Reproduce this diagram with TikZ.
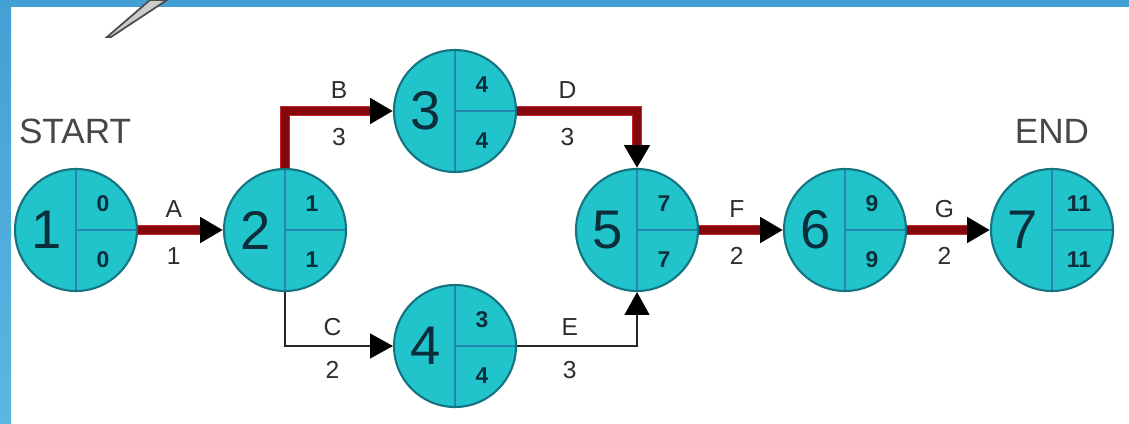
\documentclass[tikz,border=0pt]{standalone}
\usepackage{fontspec}
\setmainfont{Liberation Sans}
\usetikzlibrary{arrows.meta}
\definecolor{bandblue}{RGB}{66,160,212}
\definecolor{bandlight}{RGB}{92,182,226}
\definecolor{evfill}{RGB}{32,196,202}
\definecolor{evline}{RGB}{22,115,130}
\definecolor{evdiv}{RGB}{35,135,175}
\definecolor{evtext}{RGB}{12,45,60}
\definecolor{labtext}{RGB}{45,45,45}
\definecolor{critred}{RGB}{135,8,12}
\definecolor{glowred}{RGB}{190,40,40}
\tikzset{
  event/.style={circle,draw=evline,line width=1.2pt,fill=evfill,minimum size=2.44cm,inner sep=0pt,
    path picture={\draw[evdiv,line width=1.2pt] (path picture bounding box.north) -- (path picture bounding box.south);
      \draw[evdiv,line width=1.2pt] (path picture bounding box.center) -- (path picture bounding box.east);}},
  bignum/.style={text=evtext,font=\fontsize{31}{31}\selectfont,inner sep=0pt},
  smallnum/.style={text=evtext,font=\bfseries\fontsize{13}{13}\selectfont,inner sep=0pt},
  lab/.style={text=labtext,font=\fontsize{14}{14}\selectfont,inner sep=0pt},
  endlabel/.style={text=black!72,font=\fontsize{20}{20}\selectfont,inner sep=0pt},
  crit/.style={critred,line width=4.2pt,-{Triangle[color=black,length=13pt,width=14pt]},
    preaction={draw=glowred,line width=6pt,shorten >=12pt,arrows=-}},
  slack/.style={black!85,line width=1.4pt,-{Triangle[color=black,length=13pt,width=14pt]}}
}
\begin{document}
\begin{tikzpicture}[x=0.02cm,y=-0.02cm]
\useasboundingbox (0,0) rectangle (1129,423);
% frame
\fill[white] (0,0) rectangle (1129,423);
\fill[bandblue] (0,0) rectangle (1129,7);
\shade[top color=bandblue,bottom color=bandlight] (0,0) rectangle (11,423);
\filldraw[fill=gray!40,draw=gray!60!black,line width=1pt] (107,37) -- (150,0) -- (167,0) -- (111,37) -- cycle;
% events
\foreach \i/\x/\y/\es/\ls in {1/76/230/0/0,2/285/230/1/1,3/455/111/4/4,4/455/346/3/4,5/637/230/7/7,6/845/230/9/9,7/1052/230/11/11}{
  \node[event] (n\i) at (\x,\y) {};
  \node[bignum] (n\i-num) at ([xshift=-0.58cm]n\i.center) {\i};
  \node[smallnum] (n\i-es) at ([xshift=0.54cm,yshift=0.52cm]n\i.center) {\es};
  \node[smallnum] (n\i-ls) at ([xshift=0.54cm,yshift=-0.6cm]n\i.center) {\ls};
}
\node[endlabel] (start) at (75,131) {START};
\node[endlabel] (end) at (1052,131) {END};
% activities
\draw[crit] (n1) -- node[lab,pos=0.42,above=5pt] (lA) {A} node[lab,pos=0.42,below=8pt] (dA) {1} (n2);
\draw[crit] (n2) |- node[lab,pos=0.75,above=5pt] (lB) {B} node[lab,pos=0.75,below=8pt] (dB) {3} (n3);
\draw[slack] (n2) |- node[lab,pos=0.72,above=5pt] (lC) {C} node[lab,pos=0.72,below=8pt] (dC) {2} (n4);
\draw[crit] (n3) -| node[lab,pos=0.21,above=5pt] (lD) {D} node[lab,pos=0.21,below=8pt] (dD) {3} (n5);
\draw[slack] (n4) -| node[lab,pos=0.22,above=5pt] (lE) {E} node[lab,pos=0.22,below=8pt] (dE) {3} (n5);
\draw[crit] (n5) -- node[lab,pos=0.45,above=5pt] (lF) {F} node[lab,pos=0.45,below=8pt] (dF) {2} (n6);
\draw[crit] (n6) -- node[lab,pos=0.45,above=5pt] (lG) {G} node[lab,pos=0.45,below=8pt] (dG) {2} (n7);
\end{tikzpicture}
\end{document}
